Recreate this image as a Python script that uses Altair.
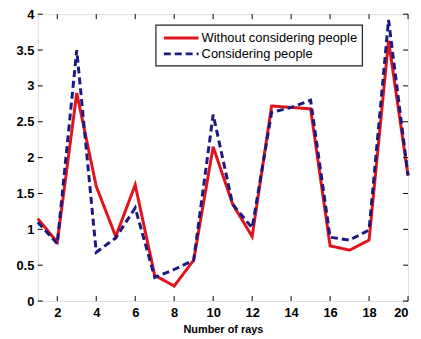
import altair as alt
import pandas as pd

x_vals = list(range(1, 21))
without_people = [1.15, 0.82, 2.9, 1.6, 0.9, 1.62, 0.36, 0.21, 0.57, 2.15, 1.35, 0.9,
                  2.72, 2.7, 2.68, 0.77, 0.71, 0.85, 3.63, 1.75]
with_people = [1.1, 0.8, 3.5, 0.68, 0.88, 1.3, 0.33, 0.44, 0.57, 2.6, 1.35, 1.02,
               2.63, 2.7, 2.8, 0.89, 0.85, 0.99, 3.92, 1.75]
series_names = ["Without considering people", "Considering people"]
series_colors = ["#e0141c", "#1c1a80"]
series_dash = [[1, 0], [7, 4]]
x_ticks = list(range(2, 21, 2))
y_ticks = [0, 0.5, 1, 1.5, 2, 2.5, 3, 3.5, 4]

W, H = 373, 289

df = pd.DataFrame(
    [{"rays": x, "value": v, "series": series_names[0]} for x, v in zip(x_vals, without_people)]
    + [{"rays": x, "value": v, "series": series_names[1]} for x, v in zip(x_vals, with_people)]
)
xt = pd.DataFrame({"t": x_ticks})
yt = pd.DataFrame({"t": y_ticks})

xscale = alt.Scale(domain=[1, 20], nice=False, zero=False)
yscale = alt.Scale(domain=[0, 4], nice=False)

x_axis = alt.Axis(values=x_ticks, title="Number of rays", ticks=False, domain=False,
                  grid=False, labelFont="Liberation Sans", labelFontWeight="bold",
                  labelFontSize=13, labelColor="black", labelPadding=6,
                  labelOverlap=False,
                  titleFont="Liberation Sans", titleFontWeight="bold", titleFontSize=11,
                  titleColor="black", titlePadding=4)
y_axis = alt.Axis(values=y_ticks, format=".1~f", title=None, ticks=False, domain=False,
                  grid=False, labelFont="Liberation Sans", labelFontWeight="bold",
                  labelFontSize=13, labelColor="black", labelPadding=4,
                  labelOverlap=False)

lines = alt.Chart(df).mark_line(strokeWidth=3).encode(
    x=alt.X("rays:Q", scale=xscale, axis=x_axis),
    y=alt.Y("value:Q", scale=yscale, axis=y_axis),
    color=alt.Color("series:N", sort=series_names,
                    scale=alt.Scale(domain=series_names, range=series_colors), legend=None),
    strokeDash=alt.StrokeDash("series:N", sort=series_names,
                              scale=alt.Scale(domain=series_names, range=series_dash),
                              legend=None),
    order="rays:Q",
)

tick_style = dict(color="black", strokeWidth=1)
xb = alt.Chart(xt).mark_rule(**tick_style).encode(
    x=alt.X("t:Q", scale=xscale, axis=x_axis), y=alt.value(H), y2=alt.value(H - 5))
xtop = alt.Chart(xt).mark_rule(**tick_style).encode(
    x=alt.X("t:Q", scale=xscale, axis=x_axis), y=alt.value(0), y2=alt.value(5))
yl = alt.Chart(yt).mark_rule(**tick_style).encode(
    y=alt.Y("t:Q", scale=yscale, axis=y_axis), x=alt.value(0), x2=alt.value(5))
yr = alt.Chart(yt).mark_rule(**tick_style).encode(
    y=alt.Y("t:Q", scale=yscale, axis=y_axis), x=alt.value(W - 5), x2=alt.value(W))

# manual legend box (matlab style)
LX, LY, LW, LH = 119, 11, 208, 41
legend_bg = alt.Chart(pd.DataFrame({"a": [0]})).mark_rect(
    fill="white", stroke="#222222", strokeWidth=1.2).encode(
    x=alt.value(LX), x2=alt.value(LX + LW), y=alt.value(LY), y2=alt.value(LY + LH))
legend_layers = []
for i, name in enumerate(series_names):
    ry = LY + 13 + 16 * i
    sd = pd.DataFrame({"series": [name]})
    legend_layers.append(
        alt.Chart(sd).mark_rule(strokeWidth=3, color=series_colors[i],
                                strokeDash=series_dash[i]).encode(
            x=alt.value(LX + 8), x2=alt.value(LX + 43), y=alt.value(ry)))
    legend_layers.append(
        alt.Chart(sd).mark_text(align="left", baseline="middle", font="Liberation Sans",
                                fontSize=13, color="black").encode(
            x=alt.value(LX + 46), y=alt.value(ry), text="series:N"))

chart = alt.layer(lines, xb, xtop, yl, yr, legend_bg, *legend_layers).properties(
    width=W, height=H,
    autosize=alt.AutoSizeParams(type="none"),
    padding={"left": 30, "top": 5, "right": 5, "bottom": 36},
).configure_view(stroke="black", strokeWidth=1.5).configure(background="white")

chart.save("out.html", embed_options={"renderer": "svg", "actions": False})
